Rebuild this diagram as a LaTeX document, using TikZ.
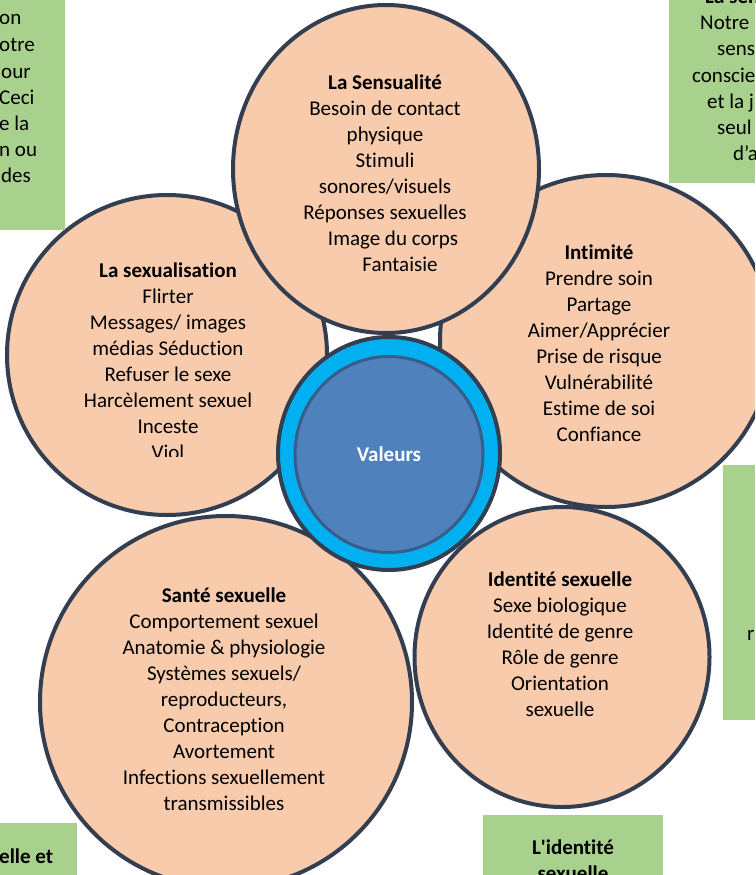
\documentclass[tikz,border=0pt]{standalone}
\usepackage{fontspec}
\setmainfont{Carlito}[Ligatures={TeX,NoCommon}]
\usetikzlibrary{shapes.geometric}

\definecolor{peach}{HTML}{F8CBAD}
\definecolor{rim}{HTML}{333F50}
\definecolor{leaf}{HTML}{A9D18E}
\definecolor{core}{HTML}{4F81BD}
\definecolor{corerim}{HTML}{385D8A}
\definecolor{ring}{HTML}{00B0F0}

\tikzset{
  petal/.style={ellipse, draw=rim, fill=peach, line width=4pt, inner sep=0pt},
  petaltext/.style={align=center, inner sep=0pt, anchor=north, font=\fontsize{21}{26}\selectfont},
  notetext/.style={inner sep=0pt, anchor=base west, font=\fontsize{21}{26}\selectfont},
}

\begin{document}
\begin{tikzpicture}[x=1pt, y=-1pt]
        \useasboundingbox (0,0) rectangle (755,875);
        \clip (0,0) rectangle (755,875);

        % petals, the top one last so it lies over its neighbours
        \node[petal, minimum width=320pt, minimum height=320pt] (sexualisation) at (167,355) {};
        \node[petal, minimum width=332pt, minimum height=332pt] (intimite) at (606,341) {};
        \node[petal, minimum width=372pt, minimum height=372pt] (sante) at (226,702) {};
        \node[petal, minimum width=295pt, minimum height=300pt] (identite) at (562,657) {};
        \node[petal, minimum width=306pt, minimum height=328pt] (sensualite) at (386,169) {};

        % centre
        \node[ellipse, draw=rim, fill=ring, line width=4pt, minimum width=222pt, minimum height=233pt] (valeurs ring) at (389,453.5) {};
        \node[ellipse, draw=corerim, fill=core, line width=3pt, minimum width=188pt, minimum height=196pt, text=white, font=\fontsize{21}{26}\selectfont\bfseries] (valeurs) at (389,454.5) {Valeurs};

        % petal texts
        \node[petaltext] (sensualite text) at (385,75) {\textbf{La Sensualité}\\Besoin de contact\\physique\\Stimuli\\sonores/visuels\\Réponses sexuelles\\\hspace{16pt}Image du corps\\\hspace{30pt}Fantaisie};
        \begin{scope}
            \clip (0,0) rectangle (330,456);
            \node[petaltext] (sexualisation text) at (168,263) {\textbf{La sexualisation}\\Flirter\\Messages/ images\\médias Séduction\\Refuser le sexe\\Harcèlement sexuel\\Inceste\\Viol};
        \end{scope}
        \node[petaltext] (intimite text) at (599,245) {\textbf{Intimité}\\Prendre soin\\Partage\\Aimer/Apprécier\\Prise de risque\\Vulnérabilité\\Estime de soi\\Confiance};
        \node[petaltext] (sante text) at (224,588) {\textbf{Santé sexuelle}\\Comportement sexuel\\Anatomie \& physiologie\\Systèmes sexuels/\\reproducteurs,\\Contraception\\Avortement\\Infections sexuellement\\transmissibles};
        \node[petaltext] (identite text) at (560,572) {\textbf{Identité sexuelle}\\Sexe biologique\\Identité de genre\\Rôle de genre\\Orientation\\sexuelle};

        % notes round the edge
        \fill[leaf] (0,0) rectangle (65,230);
        \fill[leaf] (669,0) rectangle (755,183);
        \fill[leaf] (723,465) rectangle (755,720);
        \fill[leaf] (0,823) rectangle (77,875);
        \fill[leaf] (483,815) rectangle (663,875);

        \node[notetext] (tl1) at (-1,25) {on};
        \node[notetext] (tl2) at (-1,52) {otre};
        \node[notetext] (tl3) at (1,78) {our};
        \node[notetext] (tl4) at (-1,104) {Ceci};
        \node[notetext] (tl5) at (-1,130) {e la};
        \node[notetext] (tl6) at (-1,156) {n ou};
        \node[notetext] (tl7) at (1,182) {des};

        \node[notetext, font=\fontsize{21}{26}\selectfont\bfseries] (tr0) at (705,4) {La sen};
        \node[notetext] (tr1) at (700,30) {Notre};
        \node[notetext] (tr2) at (717,56) {sens};
        \node[notetext] (tr3) at (692,82) {conscie};
        \node[notetext] (tr4) at (707,108) {et la j};
        \node[notetext] (tr5) at (717,134) {seul};
        \node[notetext] (tr6) at (733,160) {d’a};

        \node[notetext] (r1) at (747,640) {r};
        \node[notetext, font=\fontsize{21}{26}\selectfont\bfseries] (bl1) at (-1,863) {elle et};
        \node[inner sep=0pt, anchor=base, font=\fontsize{21}{26}\selectfont\bfseries] (bc1) at (573,854) {L\textquotesingle identité};
        \node[inner sep=0pt, anchor=base, font=\fontsize{21}{26}\selectfont\bfseries] (bc2) at (573,880) {sexuelle};
\end{tikzpicture}
\end{document}
